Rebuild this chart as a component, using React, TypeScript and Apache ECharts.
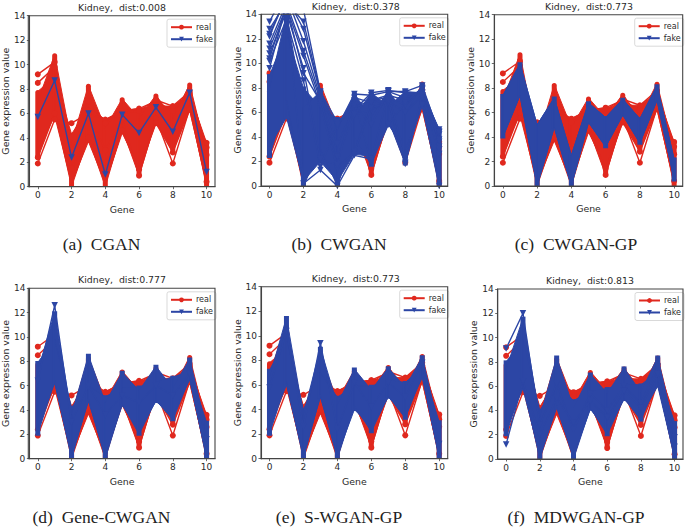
import React, { useEffect, useRef } from "react";
import * as echarts from "echarts";

const genes = ["0", "1", "2", "3", "4", "5", "6", "7", "8", "9", "10"];
const panelTitles = ["Kidney,  dist:0.008", "Kidney,  dist:0.378", "Kidney,  dist:0.773", "Kidney,  dist:0.777", "Kidney,  dist:0.773", "Kidney,  dist:0.813"];
const captions = ["(a)  CGAN", "(b)  CWGAN", "(c)  CWGAN-GP", "(d)  Gene-CWGAN", "(e)  S-WGAN-GP", "(f)  MDWGAN-GP"];

// Observed envelope of the real profiles: outer range and dense core per gene
const realExtLo = [2.4, 5.8, 0, 3.7, 0, 4.4, 0.9, 5.2, 2.8, 6.3, 0];
const realCoreLo = [3.0, 6.2, 0.3, 4.0, 0.3, 4.7, 1.6, 5.4, 3.2, 6.6, 0.2];
const realCoreHi = [7.0, 9.0, 3.6, 6.5, 4.8, 6.2, 5.6, 6.6, 5.6, 7.6, 2.8];
const realExtHi = [7.8, 10.8, 4.3, 8.3, 5.5, 7.2, 6.4, 7.5, 6.6, 8.4, 3.6];
const realLines = [
  [9.2, 10.2, 3.0, 6.0, 5.5, 6.2, 6.4, 7.0, 6.2, 7.6, 2.6],
  [8.5, 9.8, 2.5, 7.0, 5.2, 6.0, 6.2, 7.1, 6.6, 7.8, 3.2],
  [1.9, 5.5, 5.2, 6.0, 3.0, 5.5, 0.9, 5.6, 1.9, 6.4, 3.6],
  [2.4, 6.0, 1.5, 4.0, 2.0, 4.6, 1.4, 5.2, 2.8, 6.3, 0.4],
];

// Fake profiles per panel
const fakeLinesA = [[5.7, 8.7, 2.4, 6.0, 1.0, 5.9, 4.4, 6.5, 4.5, 7.7, 1.2]];

const fakeB = {
  extLo: [2.4, 5.6, 0, 2.0, 0, 2.6, 1.7, 5.0, 1.8, 6.5, 0],
  coreLo: [3.2, 7.0, 0.4, 3.0, 0.4, 4.0, 2.4, 5.4, 3.0, 7.0, 0.4],
  coreHi: [8.0, 12.5, 6.4, 6.4, 4.6, 5.6, 5.6, 6.5, 5.8, 7.6, 3.0],
  extHi: [9.0, 14, 8.0, 7.7, 5.5, 7.5, 7.6, 7.8, 7.7, 8.3, 4.6],
};
const fakeLinesB = [
  [13.4, 16, 14.4, 7.7, 5.2, 6.2, 7.6, 7.8, 7.6, 7.6, 4.6],
  [12.8, 15, 13.4, 7.6, 4.8, 7.5, 7.4, 7.7, 7.7, 8.2, 4.2],
  [12.4, 15.4, 12.8, 7.5, 3.4, 6.4, 7.0, 7.2, 6.6, 7.9, 3.8],
  [12.2, 15.5, 11.8, 7.2, 1.6, 2.7, 7.0, 7.4, 7.0, 7.9, 3.6],
  [11.6, 14.9, 11.0, 7.0, 2.4, 5.8, 6.2, 6.9, 6.0, 7.4, 2.6],
  [11.2, 14.6, 10.6, 6.6, 1.4, 2.8, 6.4, 6.8, 1.8, 7.2, 3.2],
  [10.8, 14.2, 9.6, 2.2, 1.7, 7.2, 6.8, 7.0, 1.9, 7.4, 3.0],
  [10.4, 14.7, 9.2, 6.9, 5.0, 6.6, 5.0, 7.7, 7.2, 7.6, 4.4],
  [10.2, 13.6, 8.6, 1.6, 5.0, 7.0, 1.9, 5.0, 6.8, 8.0, 4.4],
  [9.6, 14.8, 0.2, 1.3, 0, 2.5, 2.2, 7.5, 2.4, 6.6, 0],
];

const fakeC = {
  extLo: [4.0, 7.4, 0, 4.8, 0, 5.2, 3.2, 5.8, 3.5, 7.0, 0.5],
  coreLo: [4.0, 7.4, 0, 4.8, 0, 5.2, 3.2, 5.8, 3.5, 7.0, 0.5],
  coreHi: [7.4, 10.0, 5.0, 7.2, 2.5, 6.8, 5.6, 7.1, 5.5, 8.2, 2.2],
  extHi: [7.4, 10.0, 5.0, 7.2, 2.5, 6.8, 5.6, 7.1, 5.5, 8.2, 2.2],
};

const fakeD = {
  extLo: [2.0, 6.2, 0, 4.7, 0, 4.4, 2.0, 4.7, 3.2, 6.5, 0],
  coreLo: [2.6, 6.4, 0.3, 4.9, 0.3, 4.5, 2.4, 4.8, 3.6, 6.6, 0.2],
  coreHi: [7.2, 9.8, 3.6, 6.0, 4.6, 5.8, 5.6, 6.3, 5.8, 7.2, 2.4],
  extHi: [7.9, 12.0, 4.2, 8.5, 5.1, 7.1, 5.9, 7.6, 6.7, 8.2, 3.0],
};
const fakeLinesD = [[6.4, 12.6, 3.0, 6.0, 3.6, 5.2, 4.6, 6.0, 5.2, 7.0, 1.6]];

const fakeE = {
  extLo: [2.0, 6.0, 0, 5.0, 0, 4.0, 2.2, 5.0, 3.3, 6.6, 0],
  coreLo: [2.6, 6.3, 0.3, 5.2, 0.3, 4.3, 2.6, 5.1, 3.6, 6.8, 0.2],
  coreHi: [6.6, 9.8, 3.6, 7.0, 4.4, 5.9, 5.6, 6.4, 5.8, 7.4, 2.4],
  extHi: [7.2, 11.5, 4.0, 9.0, 5.0, 7.3, 5.9, 7.4, 6.2, 8.3, 3.0],
};
const fakeLinesE = [[5.8, 10.4, 2.6, 9.4, 2.4, 6.2, 4.2, 6.2, 5.0, 7.8, 1.2]];

const fakeF = {
  extLo: [2.0, 5.8, 0, 4.2, 0, 4.1, 2.0, 4.9, 3.2, 6.0, 0],
  coreLo: [2.6, 6.2, 0.3, 4.4, 0.3, 4.2, 2.4, 5.0, 3.6, 6.4, 0.2],
  coreHi: [7.4, 9.8, 3.4, 6.2, 4.2, 5.6, 5.4, 6.2, 5.5, 7.2, 2.4],
  extHi: [8.0, 11.6, 4.0, 8.4, 4.8, 7.0, 5.8, 7.5, 6.1, 8.4, 3.0],
};
const fakeLinesF = [
  [9.1, 12.0, 2.8, 6.2, 2.4, 5.4, 4.0, 6.0, 4.6, 7.6, 1.8],
  [1.2, 6.4, 2.0, 5.0, 3.0, 4.8, 3.4, 5.6, 4.2, 7.0, 1.0],
];

const RED = "#e0281e";
const BLUE = "#2c46a5";
const INK = "#2a2a2a";
const FONT = "DejaVu Sans";

const frames = [
  { left: 28.3, top: 15.7, right: 215, bottom: 186.7, tx: 122, ty: 7.5, cx: 101.5, cy: 244 },
  { left: 261, top: 14.3, right: 447.7, bottom: 186, tx: 355.8, ty: 6.5, cx: 339, cy: 244 },
  { left: 494.3, top: 14.7, right: 682.7, bottom: 186, tx: 589, ty: 6, cx: 576, cy: 244 },
  { left: 28.3, top: 288.3, right: 215, bottom: 458.7, tx: 122, ty: 279, cx: 101.5, cy: 517 },
  { left: 261, top: 286.7, right: 447.7, bottom: 458.7, tx: 355.8, ty: 278, cx: 339, cy: 517 },
  { left: 497.7, top: 289, right: 683, bottom: 459, tx: 590, ty: 280.5, cx: 576, cy: 517 },
];

type Band = { extLo: number[]; coreLo: number[]; coreHi: number[]; extHi: number[] };
const realBand: Band = { extLo: realExtLo, coreLo: realCoreLo, coreHi: realCoreHi, extHi: realExtHi };
const panelFakes: { band: Band | null; lines: number[][] }[] = [
  { band: null, lines: fakeLinesA },
  { band: fakeB, lines: fakeLinesB },
  { band: fakeC, lines: [] },
  { band: fakeD, lines: fakeLinesD },
  { band: fakeE, lines: fakeLinesE },
  { band: fakeF, lines: fakeLinesF },
];

function bandSeries(idx: number, b: Band, color: string, name: string, z: number) {
  const poly = (pts: number[][], api: any) => ({
    type: "polygon",
    shape: { points: pts.map((p) => api.coord(p)) },
    style: { fill: color, stroke: color, lineWidth: 1 },
  });
  return {
    type: "custom",
    name,
    xAxisIndex: idx,
    yAxisIndex: idx,
    z,
    clip: true,
    silent: true,
    encode: { x: 0, y: [1, 2, 3, 4] },
    data: genes.map((_, i) => [i, b.extLo[i], b.coreLo[i], b.coreHi[i], b.extHi[i]]),
    renderItem: (_p: any, api: any) => {
      const i = api.value(0) as number;
      const children: any[] = [];
      const top = api.coord([i, b.extHi[i]]);
      const bot = api.coord([i, b.extLo[i]]);
      children.push({
        type: "rect",
        shape: { x: top[0] - 2.5, y: top[1] - 1.5, width: 5, height: bot[1] - top[1] + 3, r: color === RED ? 2.5 : 0 },
        style: { fill: color },
      });
      if (i < genes.length - 1) {
        const j = i + 1;
        children.push(poly([[i, b.extHi[i]], [j, b.coreHi[j]], [j, b.coreLo[j]], [i, b.extLo[i]]], api));
        children.push(poly([[i, b.coreHi[i]], [j, b.extHi[j]], [j, b.extLo[j]], [i, b.coreLo[i]]], api));
      }
      return { type: "group", children };
    },
  };
}

function lineSeries(idx: number, values: number[], name: string, color: string, symbol: string, z: number) {
  return {
    type: "line",
    name,
    xAxisIndex: idx,
    yAxisIndex: idx,
    data: values,
    z,
    clip: true,
    symbol,
    symbolSize: symbol === "circle" ? 6 : 6.5,
    symbolRotate: symbol === "triangle" ? 180 : 0,
    showSymbol: true,
    showAllSymbols: true,
    lineStyle: { color, width: 1.4 },
    itemStyle: { color },
    silent: true,
  };
}

function buildOption() {
  const series: any[] = [];
  frames.forEach((_, i) => {
    realLines.forEach((l) => series.push(lineSeries(i, l, "real", RED, "circle", 2)));
    series.push(bandSeries(i, realBand, RED, "real band", 2));
    panelFakes[i].lines.forEach((l) => series.push(lineSeries(i, l, "fake", BLUE, "triangle", 3)));
    const b = panelFakes[i].band;
    if (b) series.push(bandSeries(i, b, BLUE, "fake band", 3));
  });
  return {
    animation: false,
    backgroundColor: "#fff",
    textStyle: { fontFamily: FONT },
    grid: frames.map((f) => ({
      left: f.left,
      top: f.top,
      width: f.right - f.left,
      height: f.bottom - f.top,
      show: false,
    })),
    title: frames.map((f, i) => ({
      text: panelTitles[i],
      left: f.tx,
      top: f.ty - 5.5,
      textAlign: "center",
      padding: 0,
      textStyle: { fontFamily: FONT, fontSize: 9.4, fontWeight: "normal", color: INK, lineHeight: 11 },
    })),
    legend: frames.map((f) => ({
      data: [{ name: "real" }, { name: "fake" }],
      left: f.right - 48,
      top: f.top + 3.5,
      orient: "vertical",
      itemWidth: 21,
      itemHeight: 6,
      itemGap: 4,
      padding: [4, 3, 4, 3],
      borderColor: "#cfcfcf",
      borderWidth: 0.8,
      borderRadius: 2,
      backgroundColor: "rgba(255,255,255,0.85)",
      selectedMode: false,
      z: 10,
      textStyle: { fontFamily: FONT, fontSize: 8, color: INK, padding: [0, 0, 0, -1] },
    })),
    xAxis: frames.map((_, i) => ({
      type: "category",
      gridIndex: i,
      data: genes,
      boundaryGap: true,
      name: "Gene",
      nameLocation: "middle",
      nameGap: 18,
      nameTextStyle: { fontFamily: FONT, fontSize: 9.4, color: INK },
      z: 6,
      axisLine: { show: true, onZero: false, lineStyle: { color: "#444", width: 1.1 } },
      axisTick: { show: true, alignWithLabel: true, interval: 1, length: 2.5, lineStyle: { color: "#444", width: 0.8 } },
      axisLabel: { interval: 1, fontFamily: FONT, fontSize: 9, color: INK, margin: 4 },
      splitLine: { show: false },
    })),
    yAxis: frames.map((_, i) => ({
      type: "value",
      gridIndex: i,
      min: 0,
      max: 14,
      interval: 2,
      name: "Gene expression value",
      nameLocation: "middle",
      nameGap: 18,
      nameTextStyle: { fontFamily: FONT, fontSize: 9.4, color: INK },
      z: 6,
      axisLine: { show: true, lineStyle: { color: "#444", width: 1.1 } },
      axisTick: { show: true, length: 2.5, lineStyle: { color: "#444", width: 0.8 } },
      axisLabel: { fontFamily: FONT, fontSize: 9, color: INK, margin: 4 },
      splitLine: { show: false },
    })),
    graphic: [
      ...frames.map((f) => ({
        type: "rect",
        silent: true,
        z: 20,
        shape: { x: f.left, y: f.top, width: f.right - f.left, height: f.bottom - f.top },
        style: { fill: "none", stroke: "#444", lineWidth: 1.1 },
      })),
      ...frames.map((f, i) => ({
        type: "text",
        silent: true,
        x: f.cx,
        y: f.cy,
        style: {
          text: captions[i],
          fontFamily: "Liberation Serif",
          fontSize: 17.5,
          fill: "#222",
          align: "center",
          verticalAlign: "middle",
        },
      })),
    ],
    series,
  };
}

export default function App() {
  const ref = useRef<HTMLDivElement>(null);
  useEffect(() => {
    document.body.style.margin = "0";
    const chart = echarts.init(ref.current!, undefined, { renderer: "svg" });
    chart.setOption(buildOption() as any);
    return () => chart.dispose();
  }, []);
  return <div ref={ref} style={{ width: 685, height: 527 }} />;
}
